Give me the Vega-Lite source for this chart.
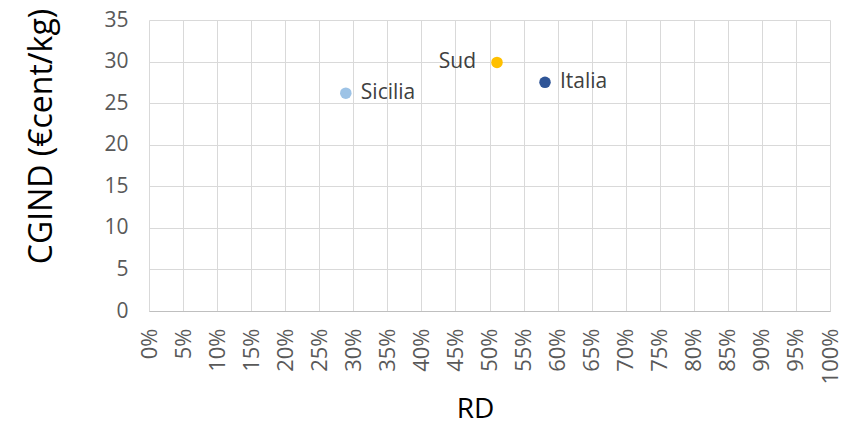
{
  "$schema": "https://vega.github.io/schema/vega-lite/v6.json",
  "autosize": "none",
  "width": 681,
  "height": 291,
  "padding": {"left": 149, "top": 20, "right": 31, "bottom": 115},
  "background": "white",
  "config": {
    "view": {"stroke": null},
    "font": "Open Sans",
    "axis": {
      "gridColor": "#D9D9D9",
      "gridWidth": 1,
      "domainColor": "#D9D9D9",
      "ticks": false,
      "labelFont": "Open Sans",
      "labelFontSize": 21,
      "labelColor": "#595959",
      "titleFont": "Open Sans",
      "titleFontWeight": "normal",
      "titleColor": "#000000"
    }
  },
  "data": {
    "values": [
      {"area": "Sicilia", "rd": 0.289, "cgind": 26.2},
      {"area": "Sud", "rd": 0.511, "cgind": 29.9},
      {"area": "Italia", "rd": 0.5815, "cgind": 27.5}
    ]
  },
  "encoding": {
    "x": {
      "field": "rd",
      "type": "quantitative",
      "scale": {"domain": [0, 1], "nice": false, "zero": true},
      "axis": {
        "title": "RD",
        "format": ".0%",
        "values": [0, 0.05, 0.1, 0.15, 0.2, 0.25, 0.3, 0.35, 0.4, 0.45, 0.5, 0.55, 0.6, 0.65, 0.7, 0.75, 0.8, 0.85, 0.9, 0.95, 1],
        "labelAngle": -90,
        "labelAlign": "right",
        "labelBaseline": "middle",
        "labelPadding": 17,
        "labelFontSize": 22,
        "labelOverlap": false,
        "labelFlush": false,
        "domainColor": "#BFBFBF",
        "titleFontSize": 28,
        "titleX": 326,
        "titleY": 106,
        "titleBaseline": "alphabetic",
        "titleAlign": "center"
      }
    },
    "y": {
      "field": "cgind",
      "type": "quantitative",
      "scale": {"domain": [0, 35], "nice": false},
      "axis": {
        "title": "CGIND (€cent/kg)",
        "values": [0, 5, 10, 15, 20, 25, 30, 35],
        "labelPadding": 21,
        "labelFlush": false,
        "labelOverlap": false,
        "domain": false,
        "titleFontSize": 32,
        "titleAngle": -90,
        "titleX": -98,
        "titleY": 116,
        "titleBaseline": "alphabetic",
        "titleAlign": "center"
      }
    }
  },
  "layer": [
    {
      "mark": {"type": "point", "filled": true, "opacity": 1, "size": 133},
      "encoding": {
        "color": {
          "field": "area",
          "type": "nominal",
          "scale": {"domain": ["Sicilia", "Sud", "Italia"], "range": ["#9DC3E6", "#FFC000", "#2F5597"]},
          "legend": null
        }
      }
    },
    {
      "transform": [{"filter": "datum.area !== 'Sud'"}],
      "mark": {"type": "text", "align": "left", "baseline": "middle", "dx": 15, "fontSize": 21, "color": "#404040", "font": "Open Sans"},
      "encoding": {"text": {"field": "area"}}
    },
    {
      "transform": [{"filter": "datum.area === 'Sud'"}],
      "mark": {"type": "text", "align": "right", "baseline": "middle", "dx": -21, "fontSize": 21, "color": "#404040", "font": "Open Sans"},
      "encoding": {"text": {"field": "area"}}
    }
  ]
}
